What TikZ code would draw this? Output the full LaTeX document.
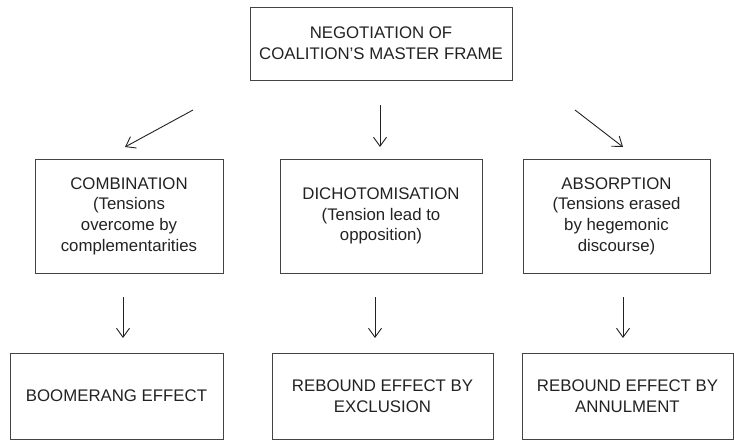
\documentclass[tikz,border=0pt]{standalone}
\usepackage{fontspec}
\setmainfont{Liberation Sans}
\usetikzlibrary{arrows.meta}
\definecolor{ink}{HTML}{222222}
\definecolor{edge}{HTML}{444444}
\tikzset{
  box/.style={draw=edge, line width=0.9pt, align=center, text=ink, inner sep=0pt,
    font=\fontsize{16.8}{20.7}\selectfont},
  flow/.style={draw=ink, line width=0.9pt, -{Straight Barb[length=9pt,width=13pt,line width=0.9pt]}}
}
\begin{document}
\begin{tikzpicture}[x=1pt,y=-1pt]
\useasboundingbox (0,0) rectangle (734,442);
% top
\node[box, minimum width=262pt, minimum height=73pt] (top) at (381,43.5)
  {NEGOTIATION OF\\COALITION’S MASTER FRAME};
% middle row
\node[box, minimum width=188pt, minimum height=114pt] (comb) at (129,216)
  {COMBINATION\\(Tensions\\overcome by\\complementarities};
\node[box, minimum width=202pt, minimum height=114pt] (dich) at (381,216)
  {DICHOTOMISATION\\(Tension lead to\\opposition)};
\node[box, minimum width=187pt, minimum height=114pt] (abso) at (616.5,216)
  {ABSORPTION\\(Tensions erased\\by hegemonic\\discourse)};
% bottom row
\node[box, minimum width=213pt, minimum height=86pt] (boom) at (116.5,396)
  {BOOMERANG EFFECT};
\node[box, minimum width=221pt, minimum height=86pt] (excl) at (382.5,396)
  {REBOUND EFFECT BY\\EXCLUSION};
\node[box, minimum width=211pt, minimum height=86pt] (annu) at (627.5,396)
  {REBOUND EFFECT BY\\ANNULMENT};
% arrow ends
\coordinate (a1s) at (193,110); \coordinate (a1e) at (125,147);
\coordinate (a2s) at (380,105); \coordinate (a2e) at (380,147);
\coordinate (a3s) at (575,110); \coordinate (a3e) at (623,147);
\coordinate (b1s) at (123,297); \coordinate (b1e) at (123,338);
\coordinate (b2s) at (375,297); \coordinate (b2e) at (375,338);
\coordinate (b3s) at (623,297); \coordinate (b3e) at (623,338);
\draw[flow] (a1s) -- (a1e);
\draw[flow] (a2s) -- (a2e);
\draw[flow] (a3s) -- (a3e);
\draw[flow] (b1s) -- (b1e);
\draw[flow] (b2s) -- (b2e);
\draw[flow] (b3s) -- (b3e);
\end{tikzpicture}
\end{document}
